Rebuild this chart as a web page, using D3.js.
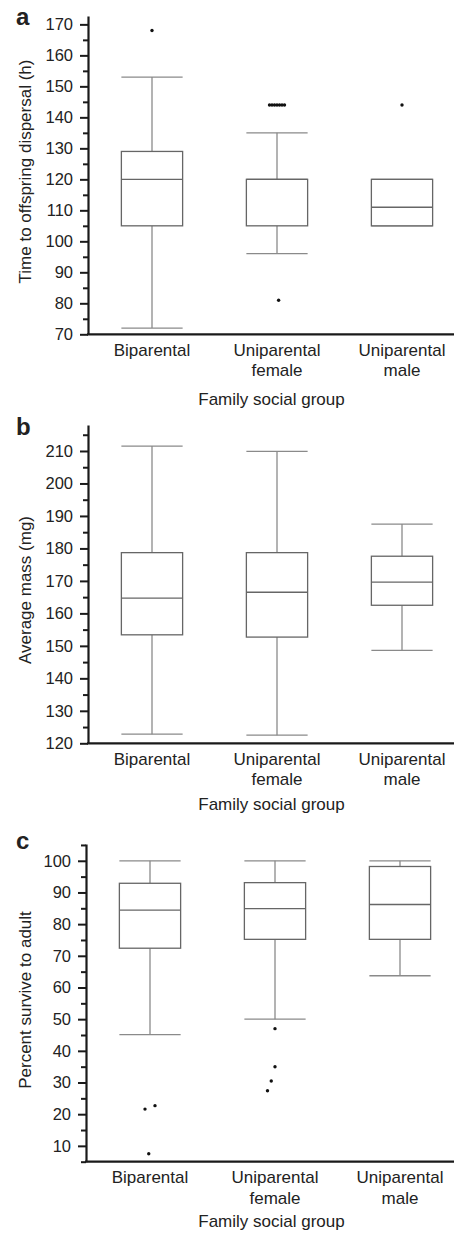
<!DOCTYPE html>
<html>
<head>
<meta charset="utf-8">
<script src="https://cdn.jsdelivr.net/npm/d3@7"></script>
<style>
  html, body { margin: 0; padding: 0; background: #fff; }
  svg { display: block; }
  text { font-family: "Liberation Sans", Arial, Helvetica, sans-serif; fill: #222; }
</style>
</head>
<body>
<svg id="chart" width="454" height="1234"></svg>
<script>
// ---------------- DATA ----------------
const categories = ["Biparental", "Uniparental female", "Uniparental male"];

// Panel a: Time to offspring dispersal (h)
const timeMin    = [72, 96, 105];
const timeQ1     = [105, 105, 105];
const timeMedian = [120, 120, 111];
const timeQ3     = [129, 120, 120];
const timeMax    = [153, 135, 120];
const timeOutliers = [[168], [144, 144, 144, 144, 144, 144, 144, 81], [144]];
const timeJitter   = [[0], [-0.06, -0.04, -0.02, 0, 0.02, 0.04, 0.06, 0.013], [0]];
const timeTicks = [70, 80, 90, 100, 110, 120, 130, 140, 150, 160, 170];

// Panel b: Average mass (mg)
const massMin    = [122.8, 122.5, 148.6];
const massQ1     = [153.4, 152.7, 162.5];
const massMedian = [164.7, 166.5, 169.6];
const massQ3     = [178.7, 178.7, 177.6];
const massMax    = [211.5, 209.9, 187.5];
const massOutliers = [[], [], []];
const massJitter   = [[], [], []];
const massTicks = [120, 130, 140, 150, 160, 170, 180, 190, 200, 210];

// Panel c: Percent survive to adult
const survMin    = [45.1, 50, 63.7];
const survQ1     = [72.4, 75.2, 75.2];
const survMedian = [84.4, 84.9, 86.2];
const survQ3     = [92.9, 93.1, 98.2];
const survMax    = [100, 100, 100];
const survOutliers = [[21.6, 22.7, 7.5], [47, 35, 30.5, 27.4], []];
const survJitter   = [[-0.04, 0.04, -0.01], [0, 0, -0.03, -0.06], []];
const survTicks = [10, 20, 30, 40, 50, 60, 70, 80, 90, 100];

// ---------------- PANELS ----------------
const panels = [
  { letter: "a", title: "Time to offspring dispersal (h)", domain: [70, 172.7], minorStep: 5,
    min: timeMin, q1: timeQ1, med: timeMedian, q3: timeQ3, max: timeMax,
    out: timeOutliers, jit: timeJitter, ticks: timeTicks,
    top: 16, bottom: 334.3, axisX: 88, titleGap: 70.5, letterY: 25, yLabelCenter: 171.5 },
  { letter: "b", title: "Average mass (mg)", domain: [120, 218], minorStep: 5,
    min: massMin, q1: massQ1, med: massMedian, q3: massQ3, max: massMax,
    out: massOutliers, jit: massJitter, ticks: massTicks,
    top: 425, bottom: 743.3, axisX: 88, titleGap: 66.5, letterY: 434.5, yLabelCenter: 590 },
  { letter: "c", title: "Percent survive to adult", domain: [5, 105.3], minorStep: 5,
    min: survMin, q1: survQ1, med: survMedian, q3: survQ3, max: survMax,
    out: survOutliers, jit: survJitter, ticks: survTicks,
    top: 844, bottom: 1161.7, axisX: 86, titleGap: 65, letterY: 848.5, yLabelCenter: 1000 }
];

const svg = d3.select("#chart");
const boxStroke = "#666";
const whiskerStroke = "#8a8a8a";
const axisColor = "#1a1a1a";

panels.forEach(p => {
  const g = svg.append("g");
  const y = d3.scaleLinear().domain(p.domain).range([p.bottom, p.top]);
  const x = d3.scaleBand().domain(categories)
    .range([p.axisX + 1.5, p.axisX + 1.5 + 375]).paddingInner(0).paddingOuter(0);
  const bw = x.bandwidth();
  const boxW = bw * 0.49;
  const cx = c => x(c) + bw / 2;

  // Minor ticks
  const minors = d3.range(Math.ceil(p.domain[0] / p.minorStep) * p.minorStep, p.domain[1] + 0.001, p.minorStep)
    .filter(v => !p.ticks.includes(v));
  g.append("g").attr("transform", `translate(${p.axisX},0)`)
    .call(d3.axisLeft(y).tickValues(minors).tickSize(5).tickSizeOuter(0).tickFormat(""))
    .call(s => s.select(".domain").remove())
    .call(s => s.selectAll("line").attr("stroke", axisColor).attr("stroke-width", 2));

  // Major ticks + axis line
  const ax = g.append("g").attr("transform", `translate(${p.axisX},0)`)
    .call(d3.axisLeft(y).tickValues(p.ticks).tickSize(8).tickSizeOuter(0).tickPadding(7).tickFormat(d3.format("d")));
  ax.select(".domain").attr("stroke", axisColor).attr("stroke-width", 2.2);
  ax.selectAll(".tick line").attr("stroke", axisColor).attr("stroke-width", 2);
  ax.selectAll(".tick text").attr("font-size", 16.5).attr("fill", "#222")
    .attr("font-family", '"Liberation Sans", Arial, sans-serif');

  // X axis line
  g.append("line")
    .attr("x1", p.axisX - 1).attr("x2", 454)
    .attr("y1", y(p.domain[0])).attr("y2", y(p.domain[0]))
    .attr("stroke", axisColor).attr("stroke-width", 2.2);

  // Boxes
  categories.forEach((c, i) => {
    const xc = cx(c);
    const bg = g.append("g");
    // whiskers
    bg.append("line").attr("x1", xc).attr("x2", xc)
      .attr("y1", y(p.max[i])).attr("y2", y(p.q3[i]))
      .attr("stroke", whiskerStroke).attr("stroke-width", 1.3);
    bg.append("line").attr("x1", xc).attr("x2", xc)
      .attr("y1", y(p.q1[i])).attr("y2", y(p.min[i]))
      .attr("stroke", whiskerStroke).attr("stroke-width", 1.3);
    [p.max[i], p.min[i]].forEach(v => {
      bg.append("line").attr("x1", xc - boxW / 2).attr("x2", xc + boxW / 2)
        .attr("y1", y(v)).attr("y2", y(v))
        .attr("stroke", whiskerStroke).attr("stroke-width", 1.3);
    });
    // box
    bg.append("rect")
      .attr("x", xc - boxW / 2).attr("width", boxW)
      .attr("y", y(p.q3[i])).attr("height", y(p.q1[i]) - y(p.q3[i]))
      .attr("fill", "#fff").attr("stroke", boxStroke).attr("stroke-width", 1.3);
    // median
    bg.append("line").attr("x1", xc - boxW / 2).attr("x2", xc + boxW / 2)
      .attr("y1", y(p.med[i])).attr("y2", y(p.med[i]))
      .attr("stroke", boxStroke).attr("stroke-width", 1.3);
    // outliers
    bg.selectAll("circle").data(p.out[i]).join("circle")
      .attr("cx", (d, k) => xc + p.jit[i][k] * bw)
      .attr("cy", d => y(d))
      .attr("r", 1.7)
      .attr("fill", "#111");
  });

  // Category labels
  const axisY = y(p.domain[0]);
  categories.forEach(c => {
    const parts = c.indexOf(" ") > 0 ? [c.slice(0, c.indexOf(" ")), c.slice(c.indexOf(" ") + 1)] : [c];
    const t = g.append("text").attr("text-anchor", "middle").attr("font-size", 17)
      .attr("x", cx(c)).attr("y", axisY + 21.5);
    parts.forEach((s, k) => {
      t.append("tspan").attr("x", cx(c)).attr("dy", k === 0 ? 0 : 20.5).text(s);
    });
  });

  // X title
  g.append("text").attr("text-anchor", "middle").attr("font-size", 17)
    .attr("x", 271.5).attr("y", axisY + p.titleGap).text("Family social group");

  // Y title
  g.append("text").attr("text-anchor", "middle").attr("font-size", 17)
    .attr("transform", `translate(30.5,${p.yLabelCenter}) rotate(-90)`)
    .text(p.title);

  // Panel letter
  g.append("text").attr("font-size", 24).attr("font-weight", "bold").attr("fill", "#111")
    .attr("x", 16).attr("y", p.letterY).text(p.letter);
});
</script>
</body>
</html>
